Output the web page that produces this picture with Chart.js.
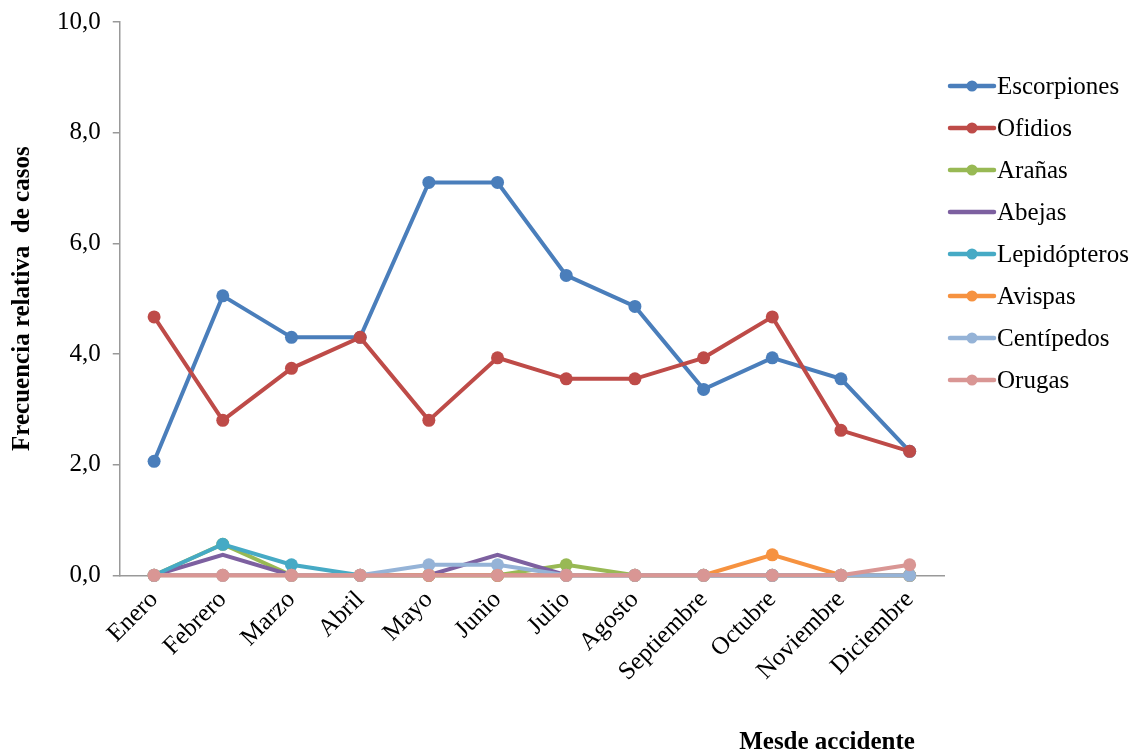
<!DOCTYPE html>
<html>
<head>
<meta charset="utf-8">
<script src="https://cdn.jsdelivr.net/npm/chart.js@4/dist/chart.umd.min.js"></script>
<style>
  html, body { margin: 0; padding: 0; background: #fff; }
  #wrap { width: 1143px; height: 756px; position: relative; }
</style>
</head>
<body>
<div id="wrap"><canvas id="myChart"></canvas></div>
<script>
// Datos
const meses = ["Enero", "Febrero", "Marzo", "Abril", "Mayo", "Junio", "Julio", "Agosto", "Septiembre", "Octubre", "Noviembre", "Diciembre"]
const escorpiones = [2.06, 5.05, 4.30, 4.30, 7.10, 7.10, 5.42, 4.86, 3.36, 3.93, 3.55, 2.24]
const ofidios = [4.67, 2.80, 3.74, 4.30, 2.80, 3.93, 3.55, 3.55, 3.93, 4.67, 2.62, 2.24]
const aranas = [0, 0.56, 0, 0, 0, 0, 0.19, 0, 0, 0, 0, 0]
const abejas = [0, 0.37, 0, 0, 0, 0.37, 0, 0, 0, 0, 0, 0]
const lepidopteros = [0, 0.56, 0.19, 0, 0, 0, 0, 0, 0, 0, 0, 0]
const avispas = [0, 0, 0, 0, 0, 0, 0, 0, 0, 0.37, 0, 0]
const centipedos = [0, 0, 0, 0, 0.19, 0.19, 0, 0, 0, 0, 0, 0]
const orugas = [0, 0, 0, 0, 0, 0, 0, 0, 0, 0, 0, 0.19]
const yTicks = [0, 2, 4, 6, 8, 10]

const serif = "'Liberation Serif', 'DejaVu Serif', serif"

let n = 0
const serie = (label, data, color, radius) => ({
    label: label,
    data: data,
    borderColor: color,
    backgroundColor: color,
    borderWidth: 4,
    pointRadius: radius,
    pointHoverRadius: radius,
    pointBorderWidth: 0,
    tension: 0,
    fill: false,
    clip: false,
    order: 20 - (n++), // la última serie queda encima
})

const datasets = [
    serie("Escorpiones", escorpiones, "#4A7EBB", 6.5),
    serie("Ofidios", ofidios, "#BE4B48", 6.5),
    serie("Arañas", aranas, "#98B954", 6.5),
    serie("Abejas", abejas, "#7D60A0", 0),
    serie("Lepidópteros", lepidopteros, "#46AAC5", 6.5),
    serie("Avispas", avispas, "#F69240", 6.5),
    serie("Centípedos", centipedos, "#95B3D7", 6.5),
    serie("Orugas", orugas, "#D99694", 6.5),
]

// leyenda y título del eje x dibujados a mano
const extras = {
    id: "extras",
    afterDraw(chart) {
        const ctx = chart.ctx
        ctx.save()
        ctx.font = "25px " + serif
        ctx.textBaseline = "middle"
        const x0 = 950
        chart.data.datasets.forEach((ds, i) => {
            const y = 86 + i * 42
            ctx.strokeStyle = ds.borderColor
            ctx.lineWidth = 4.5
            ctx.lineCap = "round"
            ctx.beginPath()
            ctx.moveTo(x0, y)
            ctx.lineTo(x0 + 44, y)
            ctx.stroke()
            if (ds.pointRadius > 0) {
                ctx.fillStyle = ds.borderColor
                ctx.beginPath()
                ctx.arc(x0 + 22, y, 5.5, 0, Math.PI * 2)
                ctx.fill()
            }
            ctx.fillStyle = "#000"
            ctx.textAlign = "left"
            ctx.fillText(ds.label, x0 + 47, y + 1)
        })
        ctx.font = "bold 25px " + serif
        ctx.textAlign = "center"
        ctx.fillText("Mesde accidente", 827, 743)
        ctx.restore()
    }
}

const config = {
    type: "line",
    data: { labels: meses, datasets: datasets },
    plugins: [extras],
    options: {
        responsive: true,
        maintainAspectRatio: false,
        animation: false,
        layout: { padding: { top: 0, right: 199, bottom: 67, left: 8 } },
        plugins: {
            legend: { display: false },
            tooltip: { enabled: false },
        },
        scales: {
            x: {
                offset: true,
                grid: { display: false, offset: true },
                border: { display: true, color: "#999", width: 1.5 },
                ticks: {
                    color: "#000",
                    font: { family: serif, size: 25 },
                    maxRotation: 45,
                    minRotation: 45,
                    padding: 2,
                },
            },
            y: {
                min: 0,
                max: 10,
                afterBuildTicks: axis => { axis.ticks = yTicks.map(v => ({ value: v })) },
                grid: { drawOnChartArea: false, drawTicks: true, tickLength: 7, color: "#999", lineWidth: 1.5 },
                border: { display: true, color: "#999", width: 1.5 },
                ticks: {
                    color: "#000",
                    font: { family: serif, size: 25, lineHeight: 0.8 },
                    padding: 12,
                    callback: v => v.toFixed(1).replace(".", ","),
                },
                title: {
                    display: true,
                    text: "Frecuencia relativa  de casos",
                    color: "#000",
                    font: { family: serif, size: 25, weight: "bold" },
                    padding: { top: 0, bottom: 7 },
                },
            },
        },
    },
}

const monGraphique = new Chart(document.getElementById("myChart"), config)
</script>
</body>
</html>
